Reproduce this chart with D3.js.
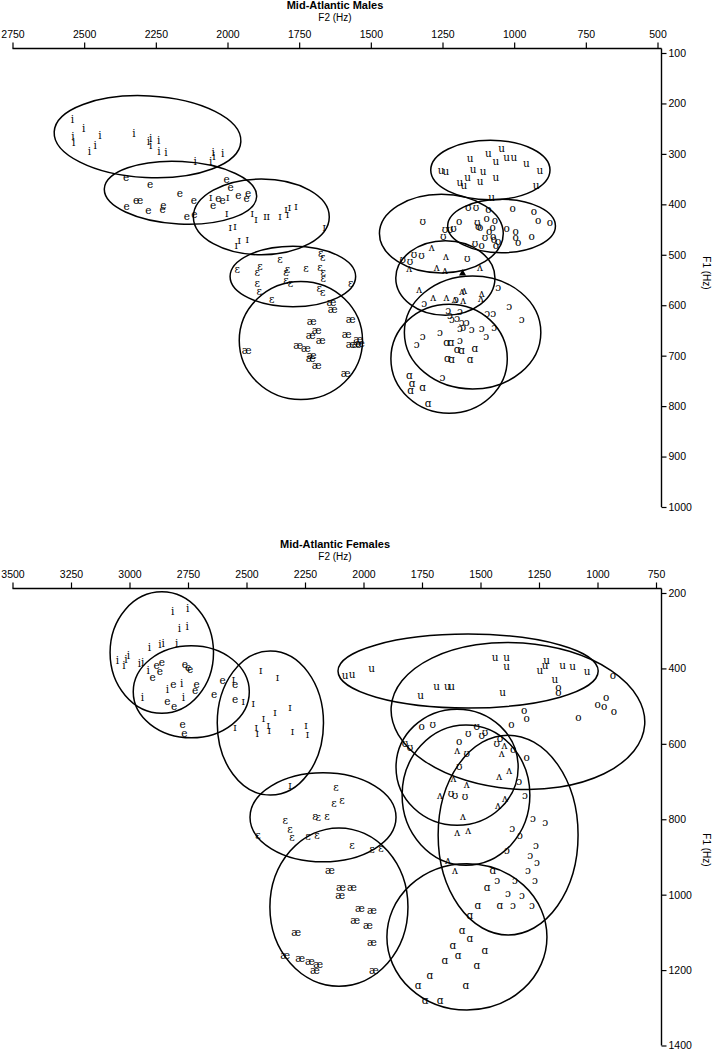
<!DOCTYPE html>
<html><head><meta charset="utf-8">
<script src="https://cdn.jsdelivr.net/npm/d3@7"></script>
<style>body{margin:0;background:#fff}svg{display:block}</style>
</head><body>
<svg id="chart" width="713" height="1050"></svg>
<script>
// ---------- DATA: Mid-Atlantic Males (F2 Hz, F1 Hz) ----------
const maleTitle = "Mid-Atlantic Males";
const maleF2Ticks = [2750,2500,2250,2000,1750,1500,1250,1000,750,500];
const maleF1Ticks = [100,200,300,400,500,600,700,800,900,1000];
const males_i = [[2541,231],[2502,249],[2539,264],[2537,276],[2445,262],[2462,282],[2482,294],[2326,258],[2276,274],[2268,269],[2268,282],[2240,272],[2239,294],[2215,296],[2113,315],[2059,315],[2050,296],[2047,305],[2017,298]];
const males_e = [[2354,346],[2270,360],[2166,377],[2352,403],[2319,391],[2305,391],[2276,411],[2224,401],[2226,409],[2117,391],[2142,424],[2116,419],[2003,350],[1989,366],[1962,381],[1928,378],[1933,388],[2050,401],[2032,388],[2017,391]];
const males_I = [[2059,386],[1999,386],[2003,417],[1914,417],[1901,430],[1869,423],[1858,424],[1817,424],[1796,410],[1791,419],[1784,406],[1761,403],[1663,444],[1991,444],[1974,443],[1959,471],[1931,469],[1970,481]];
const males_E = [[1966,529],[1887,522],[1896,535],[1817,509],[1796,535],[1791,529],[1896,555],[1889,571],[1846,588],[1796,550],[1780,556],[1726,527],[1675,497],[1668,504],[1677,524],[1666,535],[1666,547],[1680,566],[1668,573],[1570,555]];
const males_ae = [[1637,593],[1633,608],[1706,631],[1689,649],[1710,659],[1675,669],[1570,628],[1584,657],[1544,667],[1570,677],[1549,677],[1538,675],[1753,679],[1726,685],[1706,699],[1710,705],[1689,718],[1933,689],[1588,734]];
const males_u = [[1044,289],[1090,299],[1154,309],[1064,315],[1026,307],[1001,307],[957,319],[910,332],[1255,332],[1238,333],[1143,329],[1108,333],[1064,346],[1119,354],[1189,355],[1175,362],[1162,346],[923,362],[1079,385]];
const males_o = [[1090,410],[1005,408],[931,413],[1096,428],[1067,432],[1192,434],[1119,445],[1075,445],[1087,452],[1026,447],[995,453],[995,464],[986,474],[939,462],[916,432],[875,436],[1073,463],[1071,469],[1056,472],[1064,481],[1113,481]];
const males_U = [[1160,406],[1133,406],[1319,434],[1241,448],[1224,448],[1212,446],[1247,463],[1129,436],[1125,443],[1102,465],[1137,477],[1164,507],[1349,498],[1323,500],[1363,512],[1389,509]];
const males_V = [[1288,484],[1238,502],[1366,527],[1270,524],[1241,531],[1119,525],[1331,568],[1282,583],[1236,584],[1207,588],[1178,590],[1174,570],[1182,571],[1113,575],[1116,585]];
const males_O = [[1056,563],[1017,601],[1314,595],[1203,588],[1230,609],[1224,619],[1189,611],[1094,616],[1073,615],[974,627],[1217,628],[1199,626],[1183,633],[1166,633],[1189,646],[1178,643],[1148,648],[1113,646],[1098,661],[1070,644],[1259,654],[1319,662],[1340,677],[1189,669],[1250,743]];
const males_A = [[1236,672],[1220,672],[1199,687],[1183,689],[1137,685],[1233,705],[1218,707],[1154,707],[1366,739],[1356,755],[1361,769],[1319,763],[1300,794]];
const maleMeanMarker = [[1180,537]];
// ellipses: vowel, centre F2, centre F1, F2 radius, F1 radius, tilt (deg)
const maleEllVowel = ["i","e","ɪ","ɛ","æ","u","o","ʊ","ʌ","ɔ","ɑ"];
const maleEllF2 = [2279,2164,1882,1772,1744,1083,1044,1254,1240,1145,1227];
const maleEllF1 = [266,377,425,543,670,332,443,458,546,654,706];
const maleEllA = [326,266,237,219,215,208,188,216,173,238,203];
const maleEllB = [81,62,75,60,117,59,53,78,74,112,108];
const maleEllRot = [3,3,0,0,0,0,0,0,0,0,0];

// ---------- DATA: Mid-Atlantic Females ----------
const femaleTitle = "Mid-Atlantic Females";
const femaleF2Ticks = [3500,3250,3000,2750,2500,2250,2000,1750,1500,1250,1000,750];
const femaleF1Ticks = [200,400,600,800,1000,1200,1400];
const females_i = [[2815,247],[2751,241],[2787,294],[2753,288],[2915,344],[2870,335],[2856,333],[2798,332],[3052,378],[3024,391],[3015,376],[3005,364],[2958,386],[2944,382],[2920,404],[2838,455],[2777,439],[2770,475],[2945,475]];
const females_e = [[2884,391],[2862,382],[2870,406],[2901,422],[2763,388],[2749,395],[2741,402],[2813,441],[2713,441],[2720,457],[2838,486],[2809,500],[2638,468],[2602,431],[2549,441],[2549,482],[2773,547],[2766,570]];
const females_I = [[2556,429],[2514,486],[2471,491],[2439,404],[2368,422],[2378,515],[2314,502],[2428,532],[2459,556],[2454,572],[2407,550],[2403,563],[2549,555],[2304,565],[2246,550],[2240,574],[2314,709]];
const females_E = [[2118,714],[2126,757],[2092,749],[2207,791],[2194,794],[2156,791],[2335,802],[2314,826],[2306,847],[2237,844],[2199,842],[2451,842],[1964,879],[1925,876],[2049,868]];
const females_ae = [[2143,935],[2096,980],[2049,980],[2288,1099],[2015,1035],[1964,1041],[2036,1067],[1981,1080],[1964,1126],[1955,1200],[2335,1160],[2271,1168],[2229,1176],[2194,1184],[2207,1200],[2100,1001]];
const females_u = [[1438,371],[1388,371],[1388,394],[1217,378],[1224,391],[1246,404],[1149,391],[1106,393],[1044,406],[1182,429],[1687,447],[1642,447],[1623,447],[1756,471],[1405,462],[1965,400],[2079,417],[2049,415]];
const females_o = [[934,418],[963,475],[999,494],[972,499],[930,512],[1082,528],[1167,450],[1167,462],[1313,510],[1303,532],[1368,547],[1751,553],[1591,592],[1303,634],[1360,615]];
const females_U = [[1704,547],[1516,553],[1481,568],[1495,577],[1552,572],[1559,624],[1591,659],[1417,585],[1431,599],[1823,597],[1801,609],[1626,731],[1609,736],[1566,738]];
const females_V = [[1559,707],[1377,669],[1409,625],[1398,603],[1616,691],[1420,685],[1600,616],[1395,744],[1553,829],[1600,834],[1639,908],[1609,935],[1575,791],[1673,736],[1425,762]];
const females_O = [[1335,699],[1310,736],[1365,823],[1331,842],[1387,882],[1288,895],[1259,913],[1297,935],[1267,961],[1353,961],[1383,996],[1323,1001],[1280,1027],[1429,961],[1361,1027],[1224,807],[1276,797],[1263,868]];
const females_A = [[1447,935],[1472,980],[1511,1027],[1545,1054],[1579,1094],[1618,1134],[1545,1115],[1596,1160],[1652,1173],[1716,1213],[1767,1240],[1737,1279],[1673,1279],[1562,1240],[1515,1187],[1481,1147],[1417,1027]];
const femaleEllVowel = ["i","e","ɪ","ɛ","æ","u","o","ʊ","ʌ","ɔ","ɑ"];
const femaleEllF2 = [2862,2736,2398,2173,2105,1553,1340,1600,1562,1382,1558];
const femaleEllF1 = [358,462,545,795,1033,407,526,662,736,842,1112];
const femaleEllA = [221,248,227,312,295,556,543,261,273,299,342];
const femaleEllB = [161,122,191,118,210,98,194,154,186,265,194];
const femaleEllRot = [0,0,0,0,0,0,4,0,0,0,0];

const glyphs = ["i","e","ɪ","ɛ","æ","u","o","ʊ","ʌ","ɔ","ɑ"];

const svg = d3.select("#chart");

function panel(cfg) {
  const g = svg.append("g");
  const x = d3.scaleLinear().domain(cfg.xDomain).range(cfg.xRange);
  const y = d3.scaleLinear().domain(cfg.yDomain).range(cfg.yRange);
  const axisX = cfg.yAxisX;

  g.append("text").attr("x", 335).attr("y", cfg.titleY)
    .attr("text-anchor","middle").attr("font-family","Liberation Sans, Arial, sans-serif")
    .attr("font-weight","bold").attr("font-size",11).text(cfg.title);
  g.append("text").attr("x", 335).attr("y", cfg.titleY + 12)
    .attr("text-anchor","middle").attr("font-family","Liberation Sans, Arial, sans-serif")
    .attr("font-size",10).text("F2 (Hz)");

  const xa = g.append("g").attr("transform", `translate(0,${cfg.axisY})`)
    .call(d3.axisTop(x).tickValues(cfg.xTicks).tickSize(6).tickPadding(5).tickFormat(d3.format("d")));
  xa.select(".domain").remove();
  xa.selectAll("text").attr("font-family","Liberation Sans, Arial, sans-serif").attr("font-size",10.5).attr("fill","#000");
  xa.selectAll("line").attr("stroke","#000").attr("stroke-width",1.2);
  g.append("line").attr("x1", cfg.xRange[0]).attr("x2", axisX)
    .attr("y1", cfg.axisY).attr("y2", cfg.axisY).attr("stroke","#000").attr("stroke-width",1.4);

  const ya = g.append("g").attr("transform", `translate(${axisX},0)`)
    .call(d3.axisRight(y).tickValues(cfg.yTicks).tickSize(5).tickPadding(2).tickFormat(d3.format("d")));
  ya.select(".domain").remove();
  ya.selectAll("text").attr("font-family","Liberation Sans, Arial, sans-serif").attr("font-size",10.5).attr("fill","#000");
  ya.selectAll("line").attr("stroke","#000").attr("stroke-width",1.2);
  g.append("line").attr("x1", axisX).attr("x2", axisX)
    .attr("y1", cfg.axisY).attr("y2", cfg.yRange[1]).attr("stroke","#000").attr("stroke-width",1.4);
  g.append("text").attr("transform", `translate(703,${cfg.f1LabelY}) rotate(90)`)
    .attr("text-anchor","middle").attr("font-family","Liberation Sans, Arial, sans-serif")
    .attr("font-size",10).text("F1 (Hz)");

  const ells = cfg.ellVowel.map((v,i) => ({v, f2: cfg.ellF2[i], f1: cfg.ellF1[i], a: cfg.ellA[i], b: cfg.ellB[i], rot: cfg.ellRot[i]}));
  g.append("g").selectAll("ellipse").data(ells).join("ellipse")
    .attr("cx", d => x(d.f2)).attr("cy", d => y(d.f1))
    .attr("rx", d => Math.abs(x(d.f2 + d.a) - x(d.f2)))
    .attr("ry", d => Math.abs(y(d.f1 + d.b) - y(d.f1)))
    .attr("transform", d => `rotate(${d.rot} ${x(d.f2)} ${y(d.f1)})`)
    .attr("fill","none").attr("stroke","#000").attr("stroke-width",1.5);

  const pts = [];
  cfg.points.forEach((arr, k) => arr.forEach(p => pts.push({g: glyphs[k], f2: p[0], f1: p[1]})));
  g.append("g").selectAll("text").data(pts).join("text")
    .attr("x", d => x(d.f2)).attr("y", d => y(d.f1))
    .attr("text-anchor","middle").attr("dominant-baseline","central")
    .attr("font-family","DejaVu Serif, Liberation Serif, serif")
    .attr("font-size",10.5).attr("fill","#000").text(d => d.g);

  if (cfg.means) {
    g.append("g").selectAll("path").data(cfg.means).join("path")
      .attr("transform", d => `translate(${x(d[0])},${y(d[1])})`)
      .attr("d", d3.symbol().type(d3.symbolTriangle).size(22)).attr("fill","#000");
  }
}

panel({
  title: maleTitle, titleY: 9, axisY: 48.5,
  xDomain: [2750,500], xRange: [12.5,657.5],
  yDomain: [100,1000], yRange: [53,507],
  xTicks: maleF2Ticks, yTicks: maleF1Ticks, yAxisX: 661.5, f1LabelY: 273,
  ellVowel: maleEllVowel, ellF2: maleEllF2, ellF1: maleEllF1, ellA: maleEllA, ellB: maleEllB, ellRot: maleEllRot,
  points: [males_i, males_e, males_I, males_E, males_ae, males_u, males_o, males_U, males_V, males_O, males_A],
  means: maleMeanMarker
});

panel({
  title: femaleTitle, titleY: 548, axisY: 588.5,
  xDomain: [3500,750], xRange: [12.5,656],
  yDomain: [200,1400], yRange: [593,1045.5],
  xTicks: femaleF2Ticks, yTicks: femaleF1Ticks, yAxisX: 661.5, f1LabelY: 850,
  ellVowel: femaleEllVowel, ellF2: femaleEllF2, ellF1: femaleEllF1, ellA: femaleEllA, ellB: femaleEllB, ellRot: femaleEllRot,
  points: [females_i, females_e, females_I, females_E, females_ae, females_u, females_o, females_U, females_V, females_O, females_A]
});
</script>
</body></html>
